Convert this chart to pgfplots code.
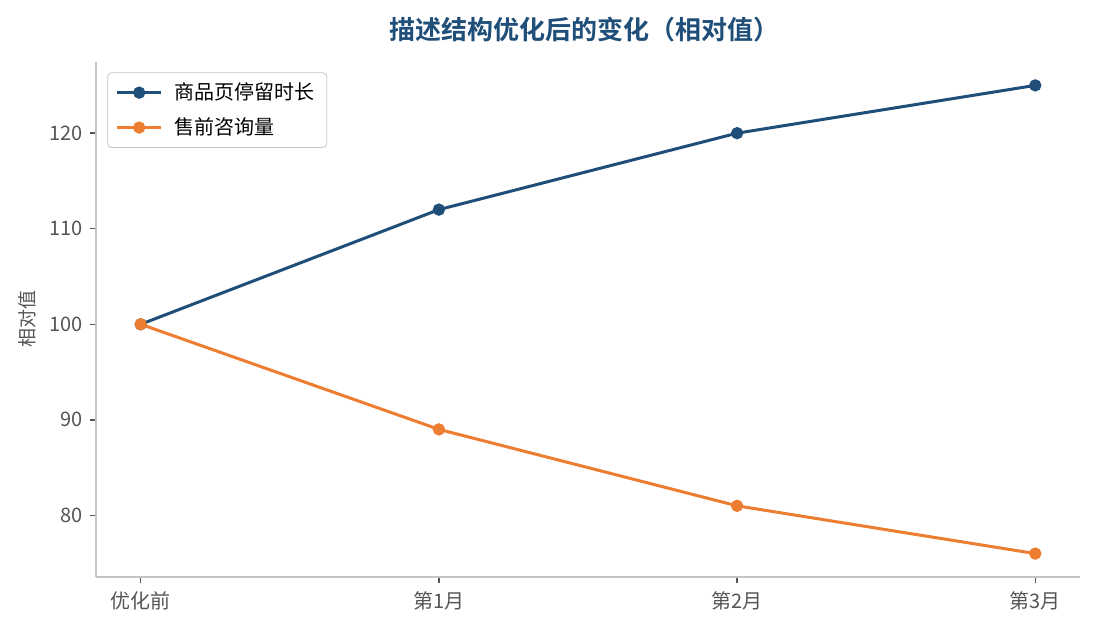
\documentclass[border=0pt]{standalone}
\usepackage{fontspec}
\setmainfont{Noto Sans CJK SC}
\newfontfamily\titlefont{Noto Sans CJK SC Bold}
\usepackage{pgfplots}
\pgfplotsset{compat=1.18}
\definecolor{navy}{HTML}{1F4E79}
\definecolor{orng}{HTML}{ED7D31}
\definecolor{spine}{HTML}{C4C4C4}
\definecolor{lbl}{HTML}{555555}
\begin{document}
\begin{tikzpicture}[x=1pt,y=1pt]
\useasboundingbox (0,0) rectangle (547.5,315);
\begin{axis}[
    at={(48pt,26.5pt)}, anchor=south west,
    scale only axis,
    width=492pt, height=257.5pt,
    xmin=-0.15, xmax=3.15,
    ymin=73.55, ymax=127.45,
    xtick={0,1,2,3},
    xticklabels={优化前,第1月,第2月,第3月},
    ytick={80,90,100,110,120},
    axis x line*=bottom, axis y line*=left,
    axis line style={spine, line width=0.8pt},
    tick align=outside,
    major tick length=3pt,
    tick style={lbl, line width=0.7pt},
    every tick label/.style={font=\fontsize{10}{12}\selectfont, text=lbl},
    /pgf/number format/assume math mode=true,
    xticklabel style={yshift=-1pt},
    ylabel={相对值},
    ylabel style={font=\fontsize{9.5}{11}\selectfont, text=lbl},
    legend style={at={(0.0115,0.98)}, anchor=north west, draw=spine, rounded corners=2pt,
        font=\fontsize{10}{12}\selectfont, row sep=3.5pt, inner xsep=4pt, inner ysep=3pt,
        /tikz/every odd column/.append style={column sep=4pt}},
    legend cell align=left,
    legend image code/.code={
        \draw[#1] (0pt,0pt) -- (22pt,0pt);
        \draw[#1, mark repeat=2, mark phase=2] plot coordinates {(0pt,0pt) (11pt,0pt) (22pt,0pt)};
    },
    clip=false,
]
\addplot[navy, line width=1.5pt, mark=*, mark size=2.3pt, mark options={solid}]
    coordinates {(0,100) (1,112) (2,120) (3,125)};
\addlegendentry{商品页停留时长}
\addplot[orng, line width=1.5pt, mark=*, mark size=2.3pt, mark options={solid}]
    coordinates {(0,100) (1,89) (2,81) (3,76)};
\addlegendentry{售前咨询量}
\end{axis}
\node[font=\titlefont\fontsize{13}{15}\selectfont, text=navy] at (292,300) {描述结构优化后的变化（相对值）};
\end{tikzpicture}
\end{document}
